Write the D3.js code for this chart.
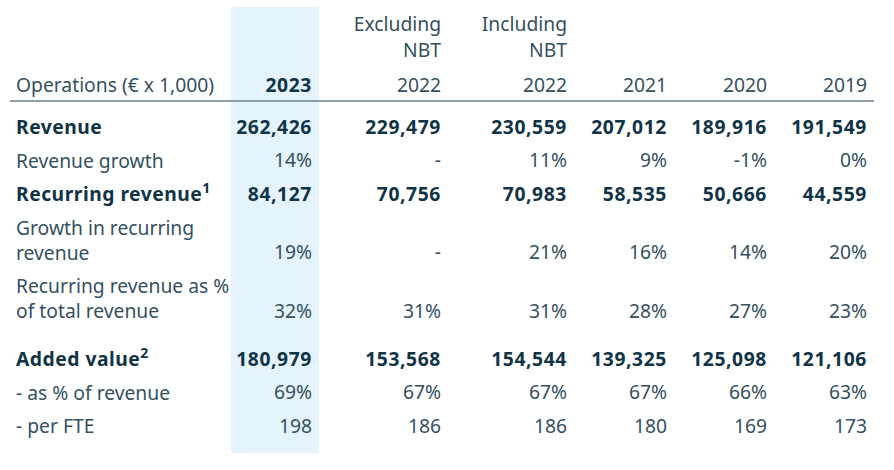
<!DOCTYPE html>
<html><head><meta charset="utf-8">
<script src="https://cdn.jsdelivr.net/npm/d3@7"></script>
<style>
html,body{margin:0;padding:0;background:#fff;}
svg{display:block;}
text{font-family:"Noto Sans",sans-serif;font-size:19.3px;}
</style></head>
<body>
<svg id="chart" width="894" height="470"></svg>
<script>
// ---- data ----
const columnKeys = ["y2023", "excl2022", "incl2022", "y2021", "y2020", "y2019"];
const headerLine1 = ["", "Excluding", "Including", "", "", ""];
const headerLine2 = ["", "NBT", "NBT", "", "", ""];
const headerYears = ["2023", "2022", "2022", "2021", "2020", "2019"];
const headerTitle = "Operations (€ x 1,000)";

const rowLabels = [
  ["Revenue"],
  ["Revenue growth"],
  ["Recurring revenue"],
  ["Growth in recurring", "revenue"],
  ["Recurring revenue as %", "of total revenue"],
  ["Added value"],
  ["- as % of revenue"],
  ["- per FTE"]
];
const rowSup = ["", "", "1", "", "", "2", "", ""];
const rowBold = [true, false, true, false, false, true, false, false];
const rowGapBefore = [0, 0, 0, 0, 0, 1, 0, 0];

const revenue          = ["262,426", "229,479", "230,559", "207,012", "189,916", "191,549"];
const revenueGrowth    = ["14%", "-", "11%", "9%", "-1%", "0%"];
const recurringRevenue = ["84,127", "70,756", "70,983", "58,535", "50,666", "44,559"];
const recurringGrowth  = ["19%", "-", "21%", "16%", "14%", "20%"];
const recurringPct     = ["32%", "31%", "31%", "28%", "27%", "23%"];
const addedValue       = ["180,979", "153,568", "154,544", "139,325", "125,098", "121,106"];
const addedValuePct    = ["69%", "67%", "67%", "67%", "66%", "63%"];
const addedValuePerFTE = ["198", "186", "186", "180", "169", "173"];
const rowValues = [revenue, revenueGrowth, recurringRevenue, recurringGrowth,
                   recurringPct, addedValue, addedValuePct, addedValuePerFTE];

// ---- layout ----
const colWidths = [129, 126, 100, 100, 100];
const firstColRight = 312;
const colRights = [firstColRight];
colWidths.forEach((w, i) => colRights.push(colRights[i] + w));
const x = d3.scaleOrdinal().domain(columnKeys).range(colRights);
const labelX = 16;

const lineStep = 25, rowStep = 33.5, sectionGap = 14.5;
const firstRowY = 126;
let cur = firstRowY;
const rowLineYs = rowLabels.map((lines, i) => {
  if (i > 0) cur += rowStep + (rowGapBefore[i] ? sectionGap : 0);
  const ys = lines.map((_, j) => cur + j * lineStep);
  cur = ys[ys.length - 1];
  return ys;
});

const colBold = "#103446", colReg = "#35505f";
const svg = d3.select("#chart");

// highlight column
const hlLeft = 231, hlRight = 319;
svg.append("rect")
  .attr("x", hlLeft).attr("y", 7)
  .attr("width", hlRight - hlLeft).attr("height", 446)
  .attr("fill", "#e4f3fc");

// header
const hy = d3.scaleOrdinal().domain(["l1", "l2", "l3"]).range([23, 49.5, 84]);
const hdr = svg.append("g");
columnKeys.forEach((k, i) => {
  if (headerLine1[i]) {
    hdr.append("text")
      .attr("x", x(k)).attr("y", hy("l1"))
      .attr("text-anchor", "end").attr("dominant-baseline", "central")
      .attr("fill", colReg).text(headerLine1[i]);
    hdr.append("text")
      .attr("x", x(k)).attr("y", hy("l2"))
      .attr("text-anchor", "end").attr("dominant-baseline", "central")
      .attr("fill", colReg).text(headerLine2[i]);
  }
  hdr.append("text")
    .attr("x", x(k)).attr("y", hy("l3"))
    .attr("text-anchor", "end").attr("dominant-baseline", "central")
    .attr("fill", i === 0 ? colBold : colReg)
    .attr("font-weight", i === 0 ? 700 : 400)
    .attr("letter-spacing", i === 0 ? 0.6 : 0)
    .text(headerYears[i]);
});
hdr.append("text").attr("x", labelX).attr("y", hy("l3"))
  .attr("dominant-baseline", "central").attr("fill", colReg).text(headerTitle);

svg.append("line")
  .attr("x1", 10).attr("x2", 874).attr("y1", 101).attr("y2", 101)
  .attr("stroke", "#8e9ea8").attr("stroke-width", 2);

// body
const body = svg.append("g");
rowLabels.forEach((lines, r) => {
  const bold = rowBold[r];
  const fill = bold ? colBold : colReg;
  const t = body.append("text")
    .attr("x", labelX).attr("y", rowLineYs[r][0])
    .attr("dominant-baseline", "central")
    .attr("fill", fill).attr("font-weight", bold ? 700 : 400)
    .attr("letter-spacing", bold ? 0.5 : 0);
  lines.forEach((ln, j) => {
    t.append("tspan").attr("x", labelX).attr("y", rowLineYs[r][j]).text(ln);
  });
  if (rowSup[r]) {
    t.append("tspan").attr("font-size", 14).attr("dy", -6).text(rowSup[r]);
  }
  const vy = rowLineYs[r][lines.length - 1];
  rowValues[r].forEach((v, c) => {
    body.append("text")
      .attr("x", x(columnKeys[c])).attr("y", vy)
      .attr("text-anchor", "end").attr("dominant-baseline", "central")
      .attr("fill", fill).attr("font-weight", bold ? 700 : 400)
      .attr("letter-spacing", bold ? 0.6 : 0)
      .text(v);
  });
});
</script>
</body></html>
